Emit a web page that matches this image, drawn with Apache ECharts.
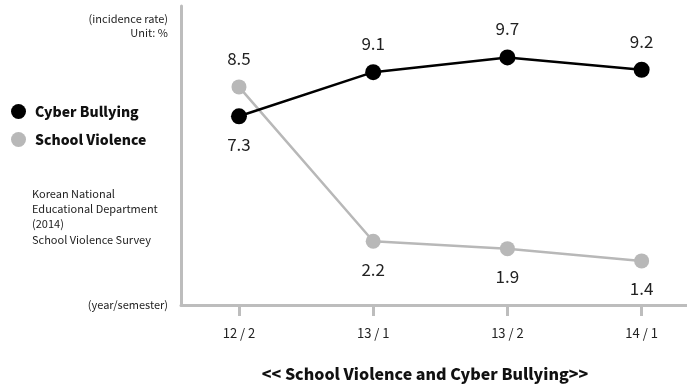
<!DOCTYPE html>
<html lang="en">
<head>
    <meta charset="UTF-8">
    <title>School Violence and Cyber Bullying</title>
    <script src="https://cdn.jsdelivr.net/npm/echarts@6/dist/echarts.min.js"></script>
    <style>
        html,body{margin:0;padding:0;background:#fff}
        #chart{width:687px;height:391px}
    </style>
</head>
<body>
<div id="chart"></div>
<script>
// data
var periods=["12 / 2","13 / 1","13 / 2","14 / 1"];
var cyberBullying=[7.3,9.1,9.7,9.2];
var schoolViolence=[8.5,2.2,1.9,1.4];
var tickIndex=[0,1,2,3];

var FONT="'Noto Sans CJK KR','Noto Sans',sans-serif";
var AXIS_GRAY="#bdbdbd";

function toPairs(arr){
	var out=[];
	for(var i=0;i<arr.length;i++){
		out.push([i,arr[i]]);
	}
	return out;
}

var labelStyle={
	show:true,
	fontFamily:FONT,
	fontSize:17,
	color:"#222",
	distance:12,
	formatter:function(p){return p.value[1].toFixed(1)}
};

var cyberData=toPairs(cyberBullying).map(function(d,i){
	// first point label sits under the dot
	return {value:d,label:{position:i==0?"bottom":"top"}};
});
var schoolData=toPairs(schoolViolence).map(function(d,i){
	return {value:d,label:{position:i==0?"top":"bottom"}};
});

var myChart=echarts.init(document.getElementById("chart"));
var option={
	animation:false,
	textStyle:{fontFamily:FONT},
	title:{
		text:"<< School Violence and Cyber Bullying>>",
		left:420,
		top:361,
		textAlign:"center",
		textStyle:{fontFamily:FONT,fontSize:16,fontWeight:900,color:"#111"}
	},
	legend:{
		orient:"vertical",
		left:6,
		top:99,
		icon:"circle",
		itemWidth:15,
		itemHeight:15,
		itemGap:13,
		data:["Cyber Bullying","School Violence"],
		textStyle:{fontFamily:FONT,fontSize:14,fontWeight:900,color:"#111",padding:[0,0,0,4]}
	},
	grid:{left:181,right:0,top:6,bottom:86,containLabel:false},
	xAxis:{
		type:"value",
		min:-0.432,
		max:3.338,
		name:"(year/semester)",
		nameLocation:"start",
		nameGap:13,
		nameTextStyle:{fontFamily:FONT,fontSize:11,color:"#222"},
		splitLine:{show:false},
		axisLine:{show:true,onZero:false,lineStyle:{color:AXIS_GRAY,width:3}},
		axisTick:{show:true,customValues:tickIndex,length:11,lineStyle:{color:AXIS_GRAY,width:3}},
		axisLabel:{
			customValues:tickIndex,
			margin:22,
			fontFamily:FONT,
			fontSize:13,
			color:"#222",
			formatter:function(v){return periods[Math.round(v)]}
		}
	},
	yAxis:{
		type:"value",
		min:-0.4,
		max:11.8,
		splitLine:{show:false},
		axisLine:{show:true,onZero:false,lineStyle:{color:AXIS_GRAY,width:3}},
		axisTick:{show:false},
		axisLabel:{show:false}
	},
	graphic:[
		{type:"text",x:168,y:12,style:{text:"(incidence rate)\nUnit: %",align:"right",fontFamily:FONT,fontSize:11,lineHeight:14,fill:"#222"}},
		{type:"text",x:32,y:186,style:{text:"Korean National\nEducational Department\n(2014)\nSchool Violence Survey",fontFamily:FONT,fontSize:11,lineHeight:15.3,fill:"#222"}}
	],
	series:[
		{
			name:"Cyber Bullying",
			type:"line",
			data:cyberData,
			symbol:"circle",
			symbolSize:16,
			itemStyle:{color:"#000"},
			lineStyle:{color:"#000",width:2.5},
			label:labelStyle,
			z:3
		},
		{
			name:"School Violence",
			type:"line",
			data:schoolData,
			symbol:"circle",
			symbolSize:15,
			itemStyle:{color:"#b8b8b8"},
			lineStyle:{color:"#b8b8b8",width:2.5},
			label:labelStyle,
			z:2
		}
	]
};
myChart.setOption(option);
</script>
</body>
</html>
